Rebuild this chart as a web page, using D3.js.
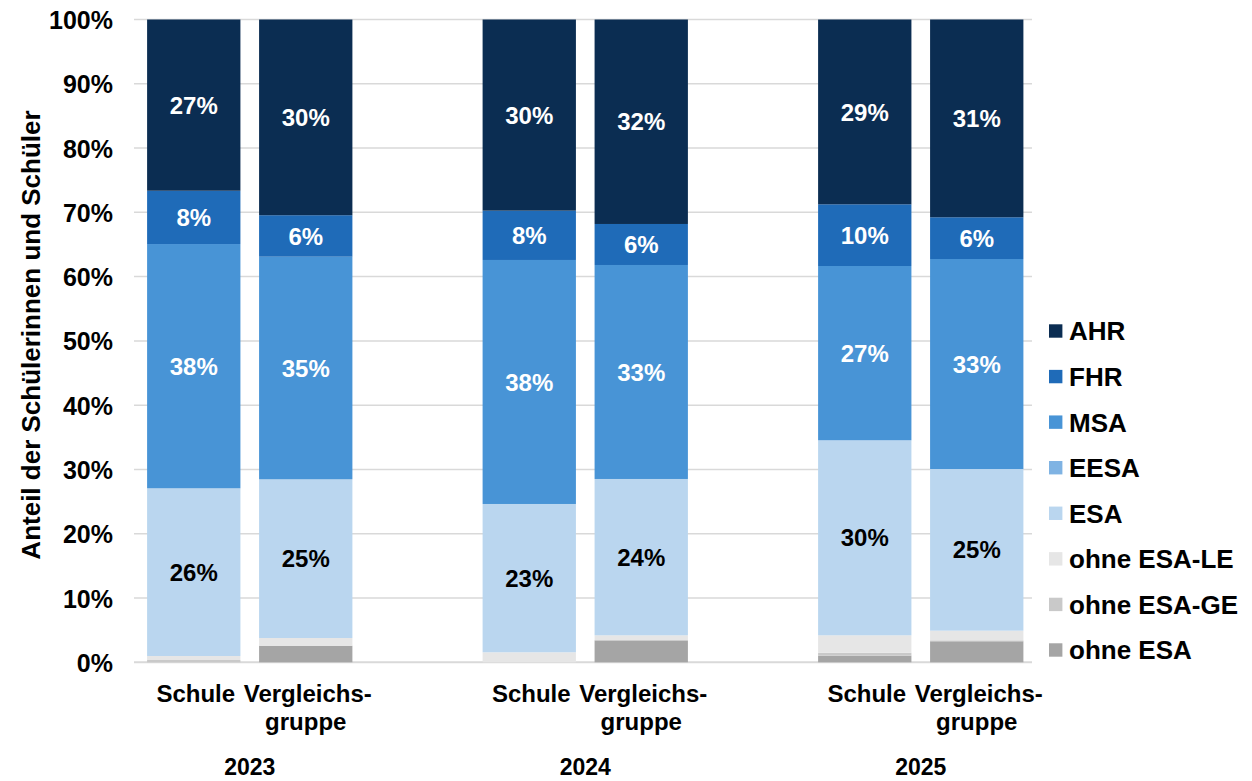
<html>
  <head>
    <meta charset="utf-8">
    <title>Abschlüsse</title>
    <script src="https://cdn.jsdelivr.net/npm/d3@7"></script>
    <style>
      body { margin: 0; background: #fff; }
      text { font-family: "Liberation Sans", Arial, sans-serif; font-weight: bold; }
    </style>
  </head>
  <body>
    <script>
// Daten (Reihenfolge: 2023 Schule, 2023 Vergleichsgruppe, 2024 Schule, ...)
const years = ["2023", "2024", "2025"];
const groups = ["Schule", "Vergleichsgruppe"];
const seriesNames = ["ohne ESA", "ohne ESA-GE", "ohne ESA-LE", "ESA", "EESA", "MSA", "FHR", "AHR"];
const ohneESA   = [0, 2.58, 0, 3.42, 1.03, 3.27];
const ohneESAGE = [0.36, 0, 0, 0, 0.46, 0.15];
const ohneESALE = [0.62, 1.2, 1.56, 0.78, 2.71, 1.5];
const esa  = [26.09, 24.69, 23.07, 24.32, 30.34, 25.15];
const eesa = [0, 0, 0, 0, 0, 0];
const msa  = [38.0, 34.63, 37.96, 33.29, 27.11, 32.67];
const fhr  = [8.29, 6.45, 7.67, 6.38, 9.6, 6.49];
const ahr  = [26.64, 30.45, 29.74, 31.81, 28.75, 30.77];
const yTicks = [0, 10, 20, 30, 40, 50, 60, 70, 80, 90, 100];

const colors = ["#a5a5a5", "#c9c9c9", "#e6e6e6", "#bad6ef", "#7fb3e3", "#4894d6", "#1f6bb8", "#0b2d52"];
const labelled = ["ESA", "MSA", "FHR", "AHR"];

const w = 1252, h = 781;
const svg = d3.select("body").append("svg").attr("width", w).attr("height", h);

// Tabelle fuer d3.stack bauen
const seriesVals = [ohneESA, ohneESAGE, ohneESALE, esa, eesa, msa, fhr, ahr];
let rows = [];
years.forEach((yr, i) => {
  groups.forEach((g, j) => {
    let row = { year: yr, group: g };
    seriesNames.forEach((s, k) => { row[s] = seriesVals[k][i * 2 + j]; });
    rows.push(row);
  });
});
const stacked = d3.stack().keys(seriesNames)(rows);

const y = d3.scaleLinear().domain([0, 100]).range([662.3, 19.5]);
const x0 = d3.scaleBand().domain(years).range([82, 1088.5]);
const x1 = d3.scaleBand().domain(groups).range([-102.65, 102.65]).paddingInner(0.1667);
const color = d3.scaleOrdinal().domain(seriesNames).range(colors);

const barX = d => x0(d.data.year) + x0.bandwidth() / 2 + x1(d.data.group);

// Gitterlinien
svg.append("g").selectAll("line")
  .data(yTicks)
  .enter().append("line")
  .attr("x1", 134).attr("x2", 1032)
  .attr("y1", d => y(d)).attr("y2", d => y(d))
  .attr("stroke", "#d9d9d9")
  .attr("stroke-width", d => d === 0 ? 2 : 1.5);

// y-Achse
const yAxis = d3.axisLeft(y).tickValues(yTicks).tickSize(0).tickPadding(0).tickFormat(d => d + "%");
const ya = svg.append("g").attr("transform", "translate(113,0)").call(yAxis);
ya.select(".domain").remove();
ya.selectAll("text")
  .attr("font-size", "25px")
  .attr("font-family", "'Liberation Sans', Arial, sans-serif")
  .attr("font-weight", "bold")
  .attr("fill", "#000")
  .attr("dy", "0.36em");

// Balken
const layers = svg.append("g").selectAll("g")
  .data(stacked)
  .enter().append("g")
  .attr("fill", d => color(d.key));

layers.selectAll("rect")
  .data(d => d)
  .enter().append("rect")
  .attr("x", barX)
  .attr("width", x1.bandwidth())
  .attr("y", d => y(d[1]))
  .attr("height", d => y(d[0]) - y(d[1]));

// Werte-Beschriftung
stacked.forEach(layer => {
  if (!labelled.includes(layer.key)) return;
  svg.append("g").selectAll("text")
    .data(layer.filter(d => d[1] - d[0] >= 5))
    .enter().append("text")
    .attr("x", d => barX(d) + x1.bandwidth() / 2)
    .attr("y", d => y((d[0] + d[1]) / 2))
    .attr("dy", "0.36em")
    .attr("text-anchor", "middle")
    .attr("font-size", "24px")
    .attr("fill", layer.key === "ESA" ? "#000" : "#fff")
    .text(d => Math.round(d[1] - d[0]) + "%");
});

// Kategorie-Beschriftung
years.forEach(yr => {
  const cx = x0(yr) + x0.bandwidth() / 2;
  const sx = cx + x1("Schule") + x1.bandwidth() / 2;
  const vx = cx + x1("Vergleichsgruppe") + x1.bandwidth() / 2;
  svg.append("text").attr("x", sx + 2).attr("y", 702)
    .attr("text-anchor", "middle").attr("font-size", "24px").text("Schule");
  svg.append("text").attr("x", vx + 2).attr("y", 702)
    .attr("text-anchor", "middle").attr("font-size", "24px").text("Vergleichs-");
  svg.append("text").attr("x", vx).attr("y", 730)
    .attr("text-anchor", "middle").attr("font-size", "24px").text("gruppe");
  svg.append("text").attr("x", cx).attr("y", 775)
    .attr("text-anchor", "middle").attr("font-size", "23px").text(yr);
});

// Achsentitel
svg.append("text")
  .attr("transform", "translate(40,335) rotate(-90)")
  .attr("text-anchor", "middle")
  .attr("font-size", "26px")
  .text("Anteil der Schülerinnen und Schüler");

// Legende
const legendNames = seriesNames.slice().reverse();
const lg = svg.append("g").selectAll("g")
  .data(legendNames)
  .enter().append("g")
  .attr("transform", (d, i) => "translate(1049," + (331 + i * 45.57) + ")");
lg.append("rect").attr("x", 0).attr("y", -6.7).attr("width", 13.4).attr("height", 13.4)
  .attr("fill", d => color(d));
lg.append("text").attr("x", 20).attr("dy", "0.36em").attr("font-size", "26px").text(d => d);
    </script>
  </body>
</html>
